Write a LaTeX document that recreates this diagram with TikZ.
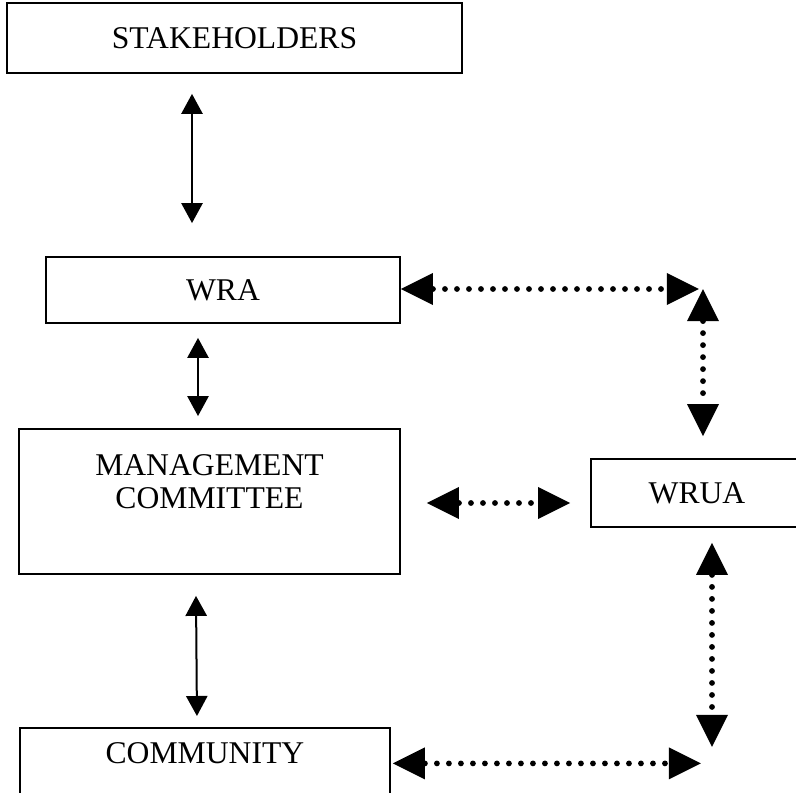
\documentclass[tikz,border=0pt]{standalone}
\usepackage{fontspec}
\setmainfont{Liberation Serif}
\usetikzlibrary{arrows.meta, positioning, calc}

\begin{document}
\begin{tikzpicture}[
    x=0.025cm, y=-0.025cm, % one unit is one pixel of the page, y grows downwards
    % Define box style
    box style/.style={
        draw, % Draw border
        rectangle, % Rectangle shape
        line width=0.045cm, % Border thickness
        align=center, % Center alignment
        font=\fontsize{22.5}{23.4}\selectfont % Text size
      },
    % Define solid link style
    solid link/.style={
        line width=0.05cm,
        {Triangle[length=0.5cm, width=0.53cm]}-{Triangle[length=0.5cm, width=0.53cm]}
      },
    % Define dotted link style
    dot link/.style={
        line width=0.145cm,
        dash pattern=on 0pt off 0.3cm,
        line cap=round,
        {Triangle[length=0.8cm, width=0.8cm, line width=0pt]}-{Triangle[length=0.8cm, width=0.8cm, line width=0pt]}
      }
  ]

  % Fix the page size
  \useasboundingbox (0,0) rectangle (796,793);

  % Define nodes
  \node[box style, minimum width=11.375cm, minimum height=1.75cm] (Stakeholders) at (234.5,38) {STAKEHOLDERS}; % Top box
  \node[box style, minimum width=8.85cm, minimum height=1.65cm] (WRA) at (223,290) {WRA}; % Second box, left column
  \node[box style, minimum width=9.525cm, minimum height=3.625cm] (Committee) at (209.5,501.5) {MANAGEMENT\\COMMITTEE\\[5pt]\mbox{}}; % Tall box, text near the top
  \node[box style, minimum width=5.3cm, minimum height=1.7cm] (WRUA) at (697,493) {WRUA}; % Right box, runs past the page edge
  \node[box style, anchor=north west, minimum width=9.25cm, text height=0.5cm, text depth=0.8cm, inner ysep=0.4cm] (Community) at (19,727) {COMMUNITY}; % Bottom box, runs past the page edge

  % Draw arrows
  % Stakeholders & WRA: solid, both ways
  \draw[solid link] ($(Stakeholders.south)+(-42.5,20)$) -- ($(WRA.north)+(-31,-33)$);

  % WRA & Committee: solid, both ways
  \draw[solid link] ($(WRA.south)+(-25,14)$) -- ($(Committee.north)+(-11.5,-12)$);

  % Committee & Community: solid, both ways
  \draw[solid link] ($(Committee.south)+(-13.5,21)$) -- ($(Community.north)+(-8,-11)$);

  % WRA & WRUA: dotted, over the top right corner
  \draw[dot link] ($(WRA.east)+(0,-1)$) -- ($(WRA.east)+(298,-1)$);
  \draw[dot link] ($(WRUA.north)+(6,-169)$) -- ($(WRUA.north)+(6,-22)$);

  % Committee & WRUA: dotted, straight
  \draw[dot link] ($(Committee.east)+(26,1.5)$) -- ($(WRUA.west)+(-20,10)$);

  % Community & WRUA: dotted, over the bottom right corner
  \draw[dot link] ($(WRUA.south)+(15,15)$) -- ($(WRUA.south)+(15,219)$);
  \draw[dot link] ($(Community.east)+(2,-6.5)$) -- ($(Community.east)+(310,-6.5)$);

\end{tikzpicture}
\end{document}
